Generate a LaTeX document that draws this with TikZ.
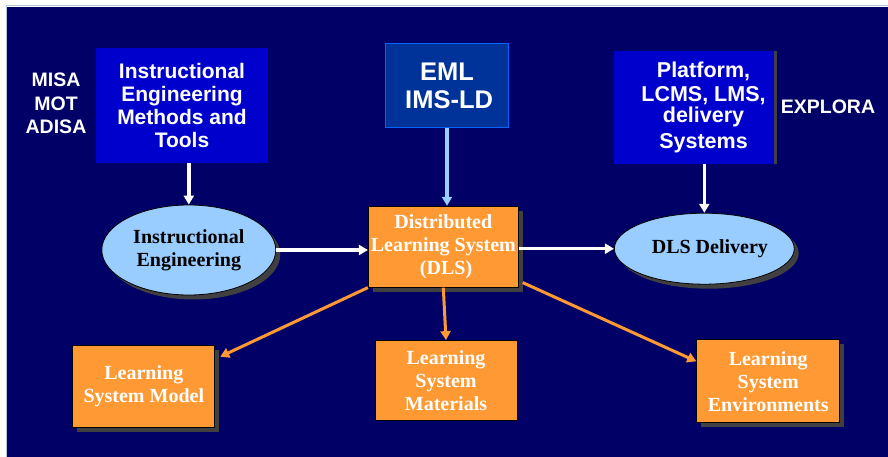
\documentclass[tikz,border=0pt]{standalone}
\usepackage{fontspec}
\setmainfont{Liberation Serif}
\setsansfont{Liberation Sans}
\usetikzlibrary{arrows.meta,shapes.geometric,shadows}

\definecolor{navy}{RGB}{0,0,102}
\definecolor{royal}{RGB}{0,0,204}
\definecolor{emlblue}{RGB}{0,51,153}
\definecolor{emledge}{RGB}{0,102,255}
\definecolor{skyblue}{RGB}{153,204,255}
\definecolor{orangebox}{RGB}{255,153,51}
\definecolor{shadowgray}{RGB}{64,64,64}
\definecolor{frameblue}{RGB}{176,196,222}

\begin{document}
\begin{tikzpicture}[x=1pt,y=-1pt,>={Triangle[length=9pt,width=10pt]},
	sans text/.style={text=white,font=\sffamily\bfseries\fontsize{21}{23}\selectfont,align=center,inner sep=0pt},
	side text/.style={text=white,font=\sffamily\bfseries\fontsize{19.5}{23.5}\selectfont,align=center,inner sep=0pt},
	serif text/.style={font=\rmfamily\bfseries\fontsize{20}{23}\selectfont,align=center,inner sep=0pt},
	blue box/.style={rectangle,fill=royal,inner sep=0pt},
	orange box/.style={rectangle,draw=black,line width=0.8pt,fill=orangebox,text=white,serif text},
	gray shadow/.style={drop shadow={shadow xshift=4.5pt,shadow yshift=-4.5pt,fill=shadowgray,opacity=1}},
	oval node/.style={ellipse,draw=black,line width=0.8pt,fill=skyblue,text=black,serif text,gray shadow}]
	
	\useasboundingbox (0,0) rectangle (888,457);
	\fill[navy] (7,7) rectangle (888,457);
	\draw[frameblue,line width=1pt] (6,457) -- (6,6) -- (888,6);
	
	% top row
	\node[side text] (misa) at (56,103.5) {MISA\\MOT\\ADISA};
	\node[blue box,sans text,minimum width=172pt,minimum height=115pt] (iemt) at (182,105.3)
		{Instructional\\Engineering\\Methods and\\Tools};
	\node[rectangle,draw=emledge,line width=1.5pt,fill=emlblue,text=white,inner sep=0pt,
		font=\sffamily\bfseries\fontsize{25.5}{28}\selectfont,align=center,
		minimum width=123pt,minimum height=84pt] (eml) at (447,85.5) {EML\\\,IMS-LD};
	\node[blue box,minimum width=160pt,minimum height=113pt,
		drop shadow={shadow xshift=3pt,shadow yshift=0pt,fill=shadowgray,opacity=1}] (plat) at (694,107.7) {};
	\node[sans text,font=\sffamily\bfseries\fontsize{21.5}{23}\selectfont] (platText) at (703.5,107.5)
		{Platform,\\[1pt]LCMS, LMS,\\[-2pt]delivery\\[3pt]Systems};
	\node[side text] (explora) at (828,107) {EXPLORA};
	
	% middle row
	\node[oval node,minimum width=174pt,minimum height=90pt] (ie) at (188.8,250) {Instructional\\Engineering};
	\node[orange box,gray shadow,minimum width=150pt,minimum height=81pt] (dls) at (443.3,246.7)
		{Distributed\\Learning System\\\;(DLS)};
	\node[oval node,minimum width=160pt,minimum height=71pt] (del) at (704.3,248.7) {\;\;DLS Delivery};
	
	% bottom row
	\node[orange box,gray shadow,minimum width=142pt,minimum height=82pt] (lsm) at (143.8,386.7)
		{\raisebox{-3pt}{\begin{tabular}{@{}c@{}}Learning\\System Model\end{tabular}}};
	\node[orange box,minimum width=142pt,minimum height=80pt] (lsmat) at (446,380.5)
		{Learning\\System\\Materials};
	\node[orange box,gray shadow,minimum width=143pt,minimum height=83pt] (lse) at (768.2,381.3)
		{Learning\\System\\Environments};
	
	\path[->,white,line width=3.5pt]
	(iemt.south -| ie.north) edge (ie.north)
	(ie.east) edge (ie.east -| dls.west)
	(dls.east |- del.west) edge (del.west)
	(plat.south -| del.north) edge (del.north)
	;
	\path[->,skyblue,line width=4pt]
	(eml.south) edge (eml.south |- dls.north)
	;
	\path[->,orangebox,line width=3pt]
	(dls.south west) edge ([xshift=5pt,yshift=30pt]lsm.east)
	(dls.south) edge (lsmat.north)
	([xshift=4pt,yshift=5pt]dls.south east) edge ([yshift=20pt]lse.west)
	;
\end{tikzpicture}
\end{document}
